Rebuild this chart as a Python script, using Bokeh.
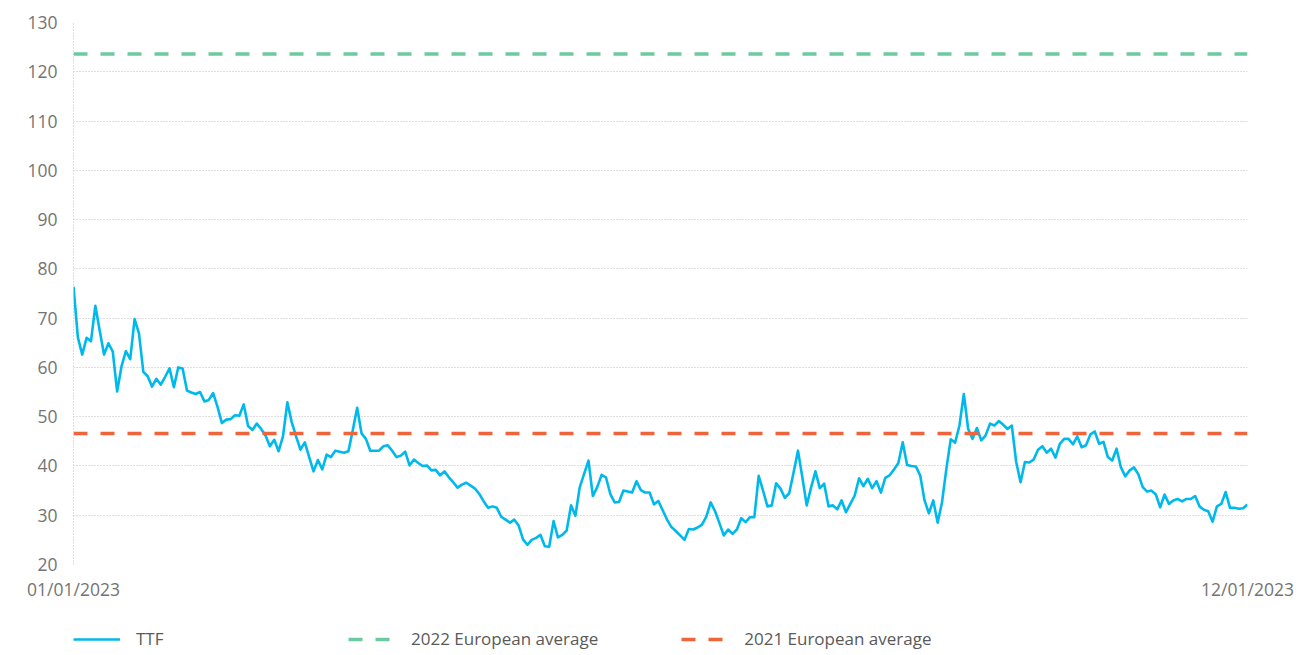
import numpy as np
from bokeh.plotting import figure
from bokeh.layouts import column
from bokeh.models import Range1d, FixedTicker, Legend, LegendItem
from bokeh.embed import file_html
from bokeh.resources import INLINE

# ---- data ----
TTF = [
    76.4, 66.1, 62.6, 66.0, 65.3, 72.5, 67.5, 62.6, 64.9, 63.2, 55.1, 60.2, 63.3, 61.7, 69.8,
    66.9, 59.1, 58.2, 56.1, 57.7, 56.5, 58.1, 59.8, 56.0, 60.0, 59.8, 55.3, 54.9, 54.6, 55.0,
    53.1, 53.4, 54.8, 52.0, 48.7, 49.4, 49.5, 50.3, 50.2, 52.5, 48.1, 47.3, 48.6,
    47.5, 46.2, 44.0, 45.3, 43.0, 46.0, 52.9, 48.9, 46.0, 43.3, 44.8, 41.8, 38.9, 41.2, 39.3,
    42.3, 41.8, 43.1, 42.9, 42.7, 43.0, 47.3, 51.8, 46.6, 45.5, 43.1, 43.1, 43.1, 44.0, 44.2,
    43.1, 41.8, 42.1, 42.9, 40.1, 41.3, 40.6, 40.0, 40.1, 39.1, 39.2, 38.1, 38.9, 37.7, 36.7,
    35.6, 36.2,
    36.6, 36.0, 35.4, 34.3, 32.8, 31.5, 31.8, 31.5, 29.7, 29.1, 28.5, 29.1, 27.9, 25.1, 24.0,
    25.0, 25.4, 26.0, 23.7, 23.6, 28.8, 25.5, 26.0, 26.9, 32.0, 29.9, 35.7, 38.4, 41.1, 33.9,
    35.7, 38.2, 37.7, 34.3, 32.6, 32.7, 35.0, 34.8, 34.6, 36.9, 35.1, 34.6, 34.6, 32.2, 32.9,
    31.0, 29.1, 27.6, 26.8, 25.9, 25.0, 27.2, 27.1, 27.5, 28.1, 29.7, 32.6, 30.8, 28.4, 25.9,
    27.1, 26.2, 27.1, 29.4, 28.6, 29.6, 29.6, 38.0, 35.0, 31.8, 32.0, 36.5, 35.4, 33.5, 34.5,
    38.7, 43.1, 37.7, 32.0, 35.6, 38.9, 35.5, 36.4, 31.8, 32.0, 31.2, 33.0, 30.6, 32.3, 34.0,
    37.5, 35.9, 37.4, 35.5, 36.9, 34.6, 37.6, 38.1, 39.3, 40.6, 44.8, 40.2, 40.0, 39.9, 38.1,
    33.0, 30.4, 33.0, 28.5, 32.6, 39.4, 45.4, 44.7, 48.2, 54.6, 47.5, 45.5, 47.7, 45.2, 46.2,
    48.6, 48.2, 49.1, 48.4, 47.5, 48.2, 40.8, 36.7, 40.8, 40.7, 41.3, 43.3, 44.0, 42.7, 43.5,
    41.7, 44.5, 45.5, 45.5, 44.4, 46.0, 43.8, 44.2, 46.4, 47.0, 44.5, 44.9, 41.8, 41.1, 43.5,
    39.7, 37.9, 39.1, 39.7, 38.3, 35.7, 34.8, 35.0, 34.2, 31.6, 34.2, 32.3, 33.0, 33.3, 32.8,
    33.3, 33.3, 33.9, 31.8, 31.1, 30.8, 28.7, 31.8, 32.3, 34.7, 31.5, 31.5, 31.3, 31.4, 32.2,
]
AVG_2022 = 123.6
AVG_2021 = 46.6
SERIES_NAMES = ["TTF", "2022 European average", "2021 European average"]
X_TICK_LABELS = ["01/01/2023", "12/01/2023"]
Y_TICKS = [20, 30, 40, 50, 60, 70, 80, 90, 100, 110, 120, 130]

n = len(TTF)
x = list(range(n))
x_ends = [x[0], x[-1]]

FONT = "Open Sans"
TICK_COLOR = "#747474"
GRID_COLOR = "#BDBDBD"
BLUE = "#00B9EC"
GREEN = "#6CC9A0"
RED = "#F0643C"
STYLES = [dict(line_color=BLUE, line_width=2.6, line_join="round"),
          dict(line_color=GREEN, line_width=3.6, line_dash="14 13"),
          dict(line_color=RED, line_width=3.6, line_dash="14 13")]

# ---- main chart ----
p = figure(width=1298, height=612, output_backend="svg", toolbar_location=None,
           x_range=Range1d(x[0], x[-1]), y_range=Range1d(Y_TICKS[0], Y_TICKS[-1]),
           min_border_left=73, min_border_right=51, min_border_top=22, min_border_bottom=48)
p.outline_line_color = None
p.background_fill_color = "white"
p.border_fill_color = "white"

p.line(x, TTF, **STYLES[0])
p.line(x_ends, [AVG_2022, AVG_2022], **STYLES[1])
p.line(x_ends, [AVG_2021, AVG_2021], **STYLES[2])

p.xaxis.ticker = FixedTicker(ticks=x_ends)
p.xaxis.major_label_overrides = {x_ends[0]: X_TICK_LABELS[0], x_ends[1]: X_TICK_LABELS[1]}
p.yaxis.ticker = FixedTicker(ticks=Y_TICKS)
for ax in (p.xaxis[0], p.yaxis[0]):
    ax.major_tick_line_color = None
    ax.minor_tick_line_color = None
    ax.major_tick_out = 0
    ax.major_tick_in = 0
    ax.minor_tick_out = 0
    ax.major_label_text_font = FONT
    ax.major_label_text_font_size = "17.5px"
    ax.major_label_text_color = TICK_COLOR
p.xaxis.axis_line_color = None
p.xaxis.major_label_standoff = 12
p.yaxis.major_label_standoff = 16
p.yaxis.axis_line_color = GRID_COLOR
p.yaxis.axis_line_dash = "1 2"

p.xgrid.grid_line_color = None
p.ygrid.grid_line_color = GRID_COLOR
p.ygrid.grid_line_dash = "1 2"
p.ygrid.grid_line_width = 1

# ---- legend strip (a second, axis-less figure holding only the legend) ----
lg = figure(width=1298, height=43, output_backend="svg", toolbar_location=None,
            x_range=Range1d(0, 1), y_range=Range1d(0, 1),
            x_axis_location=None, y_axis_location=None,
            min_border_left=73, min_border_right=51, min_border_top=0, min_border_bottom=0)
lg.outline_line_color = None
lg.grid.visible = False
# legend keys: renderers carrying a single missing value, so nothing is drawn in the strip
keys = [lg.line(x=np.array([0.0]), y=np.array([np.nan]), **st) for st in STYLES]

legend = Legend(items=[LegendItem(label=name, renderers=[r]) for name, r in zip(SERIES_NAMES, keys)],
                location=(0, 5), orientation="horizontal",
                glyph_width=47, glyph_height=20, label_height=20, label_standoff=16,
                label_width=129, spacing=83, padding=0, margin=0,
                border_line_color=None, background_fill_alpha=0,
                label_text_font=FONT, label_text_font_size="17px",
                label_text_color="#5A5A5A")
lg.add_layout(legend, "center")

open("out.html", "w").write(file_html(column(p, lg, spacing=0), INLINE))
